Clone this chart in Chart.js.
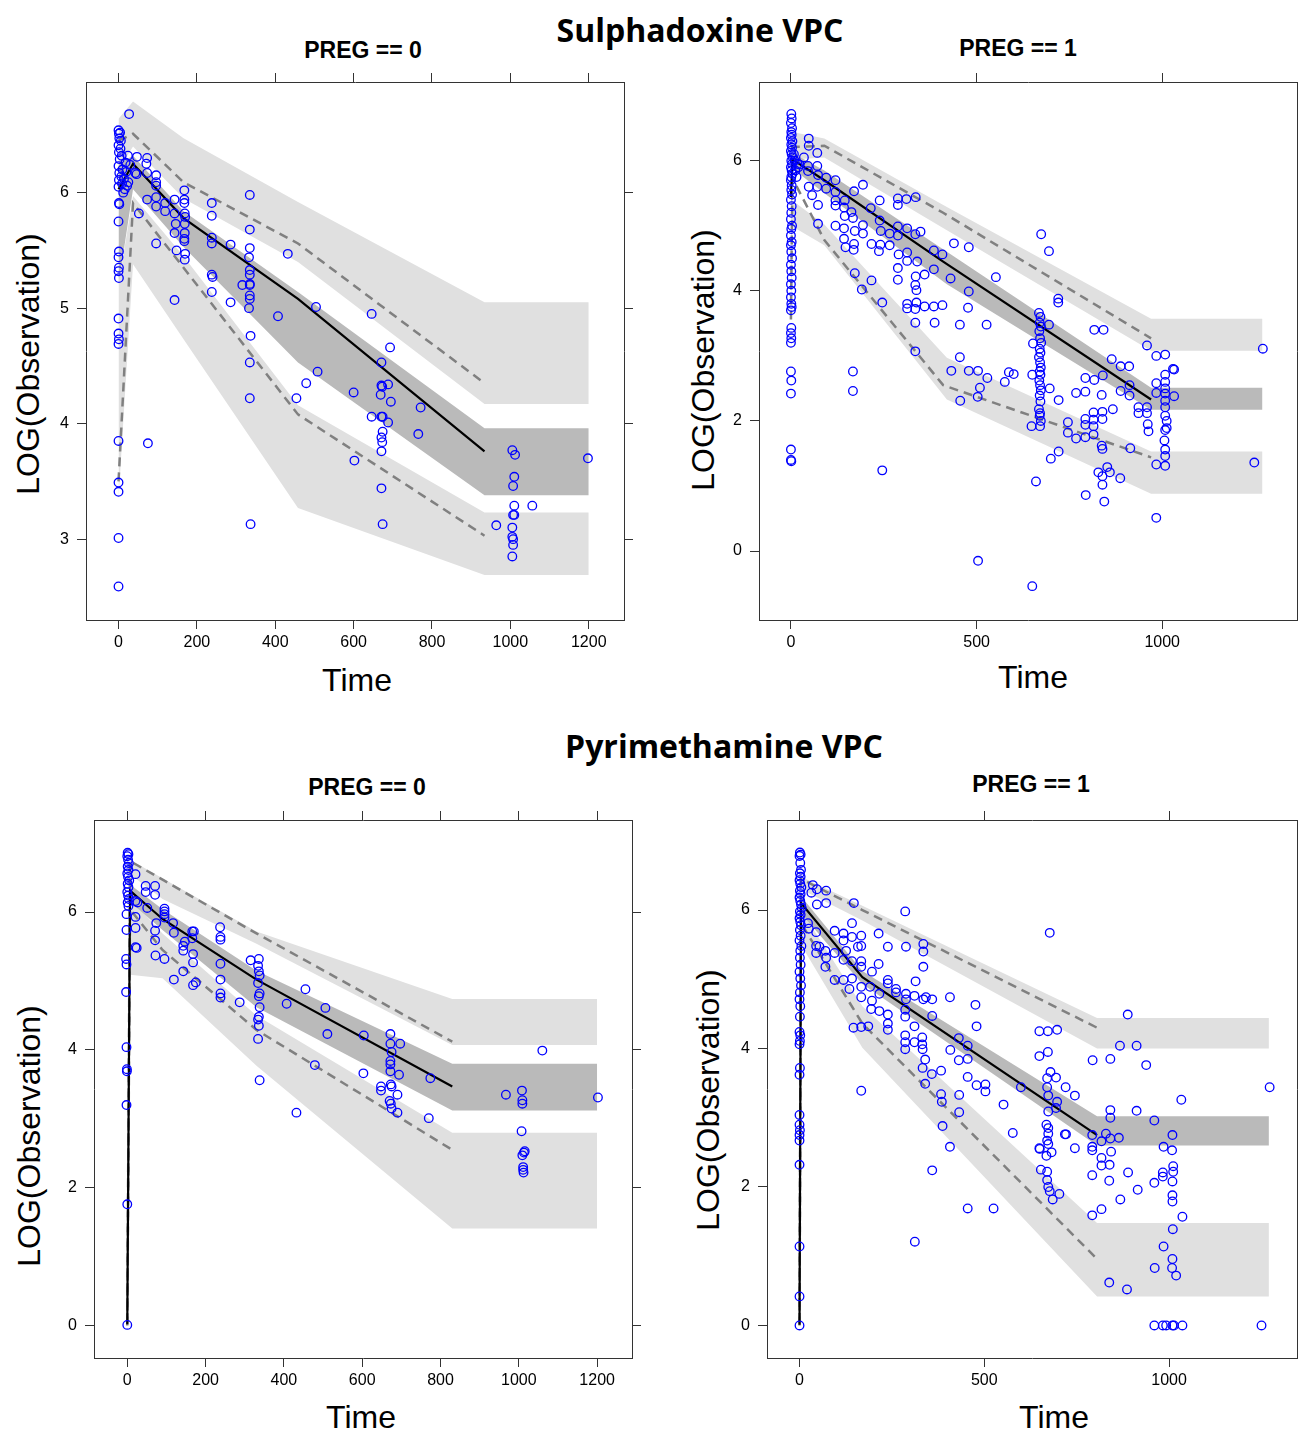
<!DOCTYPE html>
<html>
<head>
<meta charset="utf-8">
<script src="https://cdn.jsdelivr.net/npm/chart.js@4.4.1/dist/chart.umd.min.js"></script>
<style>
body { margin: 0; width: 1298px; height: 1431px; overflow: hidden; background: #fff; position: relative; font-family: "Liberation Sans", Arial, sans-serif; }
canvas { position: absolute; }
.lbl { position: absolute; transform: translate(-50%, -50%); white-space: nowrap; line-height: 1; color: #000; }
.main { font-family: "Open Sans", sans-serif; font-weight: bold; font-size: 32px; }
.strip { font-weight: bold; font-size: 23px; }
.axt { font-size: 32px; }
.rot { transform: translate(-50%, -50%) rotate(-90deg); }
</style>
</head>
<body>

<div class="lbl main" style="left:700px;top:30px">Sulphadoxine VPC</div>
<div class="lbl main" style="left:724px;top:746px">Pyrimethamine VPC</div>

<div class="lbl strip" style="left:363px;top:50px">PREG == 0</div>
<div class="lbl strip" style="left:1018px;top:48px">PREG == 1</div>
<div class="lbl strip" style="left:367px;top:787px">PREG == 0</div>
<div class="lbl strip" style="left:1031px;top:784px">PREG == 1</div>

<div class="lbl axt" style="left:357px;top:680px">Time</div>
<div class="lbl axt" style="left:1033px;top:677px">Time</div>
<div class="lbl axt" style="left:361px;top:1417px">Time</div>
<div class="lbl axt" style="left:1054px;top:1417px">Time</div>

<div class="lbl axt rot" style="left:28px;top:364px">LOG(Observation)</div>
<div class="lbl axt rot" style="left:703px;top:360px">LOG(Observation)</div>
<div class="lbl axt rot" style="left:29px;top:1136px">LOG(Observation)</div>
<div class="lbl axt rot" style="left:708px;top:1100px">LOG(Observation)</div>

<canvas id="c1"></canvas>
<canvas id="c2"></canvas>
<canvas id="c3"></canvas>
<canvas id="c4"></canvas>

<script>
'use strict';

// ---- Sulphadoxine, PREG == 0 ----
var s0Time = [
  0,1,2,0,1,3,0,2,1,0,1,2,0,1,0,1,0,1,0,0,1,0,0,0,0,0,0,
  4,6,5,8,10,7,9,12,16,18,22,25,14,20,
  27,24,47,73,71,30,43,46,73,96,96,96,52,73,96,96,119,119,143,96,75,
  168,168,168,169,170,169,169,168,168,170,169,148,143,146,143,143,
  238,238,238,238,238,240,238,286,286,
  335,335,335,333,335,335,335,335,316,335,335,333,337,335,335,337,
  432,407,504,508,479,454,600,602,
  646,693,671,671,673,669,688,695,646,671,674,688,771,765,674,671,673,671,671,674,
  1005,1012,1010,1007,1010,1056,1007,1010,964,1005,1005,1007,1007,1005,1198
];
var s0Obs = [
  6.54,6.51,6.47,6.41,6.35,6.29,6.23,6.17,6.11,6.05,5.91,5.90,5.75,5.49,5.44,5.35,5.32,5.26,4.91,4.78,4.73,4.69,3.85,3.49,3.41,3.01,2.59,
  6.52,6.45,6.38,6.32,6.20,6.14,6.08,6.00,6.03,6.26,6.06,6.09,6.12,6.18,
  6.68,6.32,6.31,6.30,6.25,6.24,6.17,6.16,6.17,6.15,6.09,6.06,5.82,5.94,5.96,5.88,5.91,5.84,5.94,5.56,3.83,
  6.02,5.94,5.91,5.82,5.79,5.73,5.65,5.60,5.58,5.47,5.42,5.50,5.65,5.73,5.82,5.07,
  5.91,5.80,5.61,5.56,5.29,5.27,5.14,5.55,5.05,
  5.98,5.68,5.52,5.44,5.33,5.29,5.21,5.20,5.20,5.11,5.08,5.00,4.76,4.53,4.22,3.13,
  5.47,4.93,5.01,4.45,4.35,4.22,4.27,3.68,
  4.95,4.66,4.53,4.33,4.32,4.25,4.34,4.19,4.06,4.06,4.06,4.01,4.14,3.91,3.93,3.88,3.84,3.76,3.44,3.13,
  3.77,3.73,3.54,3.46,3.29,3.29,3.21,3.21,3.12,3.10,3.02,3.00,2.95,2.85,3.70
];
var s0Bin = [0, 37, 166, 458, 934];
var s0Median = [6.03, 6.25, 5.78, 5.08, 3.76];
var s0P95 = [6.45, 6.51, 6.09, 5.56, 4.35];
var s0P05 = [3.50, 5.91, 5.35, 4.08, 3.03];
var s0BandT = [0, 37, 166, 458, 934, 1200];
var s0HiTop = [6.64, 6.79, 6.47, 5.92, 5.05, 5.05];
var s0HiBot = [6.20, 6.40, 5.95, 5.40, 4.17, 4.17];
var s0MedTop = [6.25, 6.32, 5.84, 5.14, 3.96, 3.96];
var s0MedBot = [5.20, 6.03, 5.53, 4.53, 3.38, 3.38];
var s0LoTop = [5.20, 5.97, 5.45, 4.16, 3.23, 3.23];
var s0LoBot = [3.35, 5.38, 4.73, 3.27, 2.69, 2.69];
var s0XTicks = [0, 200, 400, 600, 800, 1000, 1200];
var s0YTicks = [3, 4, 5, 6];

// ---- Sulphadoxine, PREG == 1 ----
var s1Time = [
  1,2,0,3,1,2,0,4,1,3, 0,2,5,1,3,0,2,4,1,0, 2,1,3,0,2,1,0,3,1,0, 2,0,1,3,0,1,2,0,1,0, 1,2,0,1,0,1,0,0,1,0, 0,0,1,
  10,12,15,20,8,18,
  48,48,71,35,23,46,71,95,120,46,
  73,48,71,95,57,73,73,120,120,120,
  145,143,170,194,163,145,167,143,120,143,
  147,170,169,172,194,194,172,191,217,217,
  215,239,239,242,241,237,266,266,288,288,
  311,336,288,288,313,349,335,290,288,288,
  313,313,340,336,335,338,338,335,360,385,
  385,408,313,313,360,385,408,246,335,387,
  335,167,167,246,439,479,430,479,477,455,
  527,552,455,432,479,504,529,509,503,456,
  576,587,600,504,652,650,648,650,674,695,
  720,720,668,672,670,673,669,671,674,670,
  672,668,671,673,670,672,669,671,673,670,
  672,668,671,670,673,671,660,695,697,721,
  700,721,817,842,864,888,911,840,817,793,
  912,912,888,768,793,837,867,839,815,815,
  839,793,793,815,746,746,768,793,815,837,
  839,914,828,839,852,859,887,839,794,844,
  959,936,936,959,959,961,963,984,1008,984,
  984,1008,1008,1008,1032,1029,1032,1008,1008,1008,
  1008,1012,1008,1012,1006,1008,1008,1008,984,984,
  1248,1271
];
var s1Obs = [
  6.72,6.65,6.58,6.50,6.44,6.40,6.35,6.30,6.25,6.20, 6.15,6.10,6.05,6.00,5.95,5.90,5.85,5.80,5.75,5.70,
  5.62,5.55,5.48,5.40,5.30,5.20,5.10,5.00,4.95,4.85, 4.75,4.70,4.60,4.50,4.40,4.30,4.20,4.10,4.00,3.90,
  3.80,3.75,3.70,3.43,3.35,3.27,3.20,2.76,2.62,2.42, 1.56,1.40,1.38,
  6.00,5.85,5.75,5.90,6.10,5.95,
  6.34,6.23,6.12,6.05,5.94,5.92,5.92,5.74,5.70,5.84,
  5.78,5.60,5.60,5.57,5.47,5.32,5.03,5.52,5.39,5.31,
  5.39,5.28,5.53,5.63,5.21,5.15,5.12,4.96,5.00,4.80,
  4.67,4.72,4.63,4.92,5.01,4.88,4.27,4.02,4.16,4.72,
  5.27,5.39,5.08,4.92,4.71,4.61,4.88,4.70,5.42,5.32,
  5.41,5.44,4.99,4.85,4.96,4.91,4.87,4.56,4.35,4.17,
  4.59,4.46,4.45,4.22,4.09,4.01,3.82,3.72,4.25,4.33,
  4.62,4.56,3.80,3.73,3.76,3.76,3.78,3.82,3.51,3.51,
  3.07,2.76,2.46,1.24,4.73,4.67,4.19,3.99,3.74,3.48,
  3.48,4.21,2.98,2.77,2.77,2.77,2.66,2.51,2.37,2.31,
  2.60,2.75,2.72,-0.15,3.19,2.71,1.92,-0.54,4.87,4.61,
  3.88,3.82,3.66,3.60,3.51,3.45,3.38,3.27,3.20,3.11,
  3.05,2.98,2.90,2.82,2.76,2.71,2.62,2.55,2.47,2.39,
  2.30,2.18,2.12,2.08,2.00,1.92,1.07,3.48,2.50,2.32,
  1.42,1.53,3.40,3.40,2.95,2.84,2.84,2.70,2.63,2.66,
  2.55,2.39,2.46,2.43,2.45,2.40,2.18,2.14,2.13,2.02,
  2.03,2.03,1.94,1.92,1.98,1.82,1.73,1.75,1.79,1.62,
  1.57,1.58,1.21,1.15,1.29,1.21,1.12,1.02,0.86,0.76,
  3.16,2.21,2.12,2.21,2.12,1.95,1.84,3.00,3.02,2.58,
  2.43,2.71,2.60,2.50,2.79,2.80,2.38,2.42,2.31,2.21,
  2.08,2.00,1.86,1.89,1.70,1.56,1.46,1.31,1.33,0.51,
  1.36,3.11
];
var s1Bin = [0, 4, 90, 410, 970];
var s1Median = [5.44, 6.02, 5.70, 4.45, 2.33];
var s1P95 = [6.20, 6.21, 6.23, 5.20, 3.27];
var s1P05 = [3.56, 5.73, 4.78, 2.55, 1.44];
var s1BandT = [0, 4, 90, 420, 970, 1270];
var s1HiTop = [6.25, 6.44, 6.34, 5.29, 3.57, 3.57];
var s1HiBot = [5.90, 6.02, 6.05, 4.93, 3.08, 3.08];
var s1MedTop = [6.10, 6.12, 5.85, 4.60, 2.51, 2.51];
var s1MedBot = [5.00, 5.88, 5.50, 4.10, 2.17, 2.17];
var s1LoTop = [5.90, 5.39, 5.02, 2.97, 1.53, 1.53];
var s1LoBot = [3.50, 4.99, 4.70, 2.33, 0.88, 0.88];
var s1XTicks = [0, 500, 1000];
var s1YTicks = [0, 2, 4, 6];

// ---- Pyrimethamine, PREG == 0 ----
var p0Time = [
  1,3,0,2,4,1,3,0,2,5, 1,3,0,2,4,1,3,-2,-2,-3, -2,-3,-2,-1,-1,-2,0,0,
  21,47,71,47,71,21,26,51,21,21,
  21,24,95,95,95,95,74,71,71,117,
  119,72,95,119,143,143,143,147,166,170,
  166,168,168,168,175,237,238,238,238,238,
  238,238,287,315,336,334,336,338,334,338,
  336,338,336,334,336,334,338,407,455,506,
  511,479,432,604,603,672,672,697,675,672,
  672,672,694,648,648,673,675,690,670,673,
  675,690,774,770,967,1008,1009,1009,1060,1202,
  1007,1015,1013,1009,1011,1011,1012
];
var p0Obs = [
  6.86,6.84,6.81,6.76,6.71,6.66,6.61,6.56,6.51,6.46, 6.41,6.36,6.29,6.24,6.19,6.14,6.09,5.97,5.74,5.32,
  5.24,4.84,4.04,3.72,3.69,3.20,1.76,0.01,
  6.55,6.38,6.38,6.29,6.25,6.16,6.14,6.06,5.93,5.77,
  5.49,5.48,6.05,6.01,5.97,5.92,5.84,5.73,5.59,5.84,
  5.70,5.37,5.32,5.02,5.14,5.51,5.44,5.57,5.72,5.72,
  5.62,5.39,5.27,4.94,4.98,5.78,5.64,5.60,5.25,5.02,
  4.82,4.76,4.69,5.30,5.32,5.22,5.14,5.08,4.97,4.82,
  4.78,4.62,4.48,4.44,4.35,4.16,3.56,4.67,4.88,4.61,
  4.23,3.78,3.09,4.21,3.66,4.23,4.09,4.09,3.97,3.84,
  3.79,3.69,3.64,3.47,3.41,3.50,3.47,3.35,3.26,3.22,
  3.15,3.09,3.59,3.01,3.35,3.41,3.27,3.22,3.99,3.31,
  2.82,2.53,2.51,2.47,2.30,2.26,2.22
];
var p0Bin = [0, 7, 90, 330, 830];
var p0Median = [0.02, 6.31, 5.90, 5.02, 3.47];
var p0P95 = [0.05, 6.74, 6.47, 5.69, 4.12];
var p0P05 = [0.00, 6.04, 5.45, 4.29, 2.55];
var p0BandT = [0, 7, 90, 330, 830, 1200];
var p0HiTop = [0.10, 6.76, 6.49, 5.72, 4.74, 4.74];
var p0HiBot = [0.05, 6.55, 6.19, 5.54, 4.07, 4.07];
var p0MedTop = [0.05, 6.40, 6.04, 5.15, 3.80, 3.80];
var p0MedBot = [0.00, 6.15, 5.74, 4.62, 3.12, 3.12];
var p0LoTop = [0.02, 6.20, 5.69, 4.50, 2.80, 2.80];
var p0LoBot = [0.00, 5.09, 5.04, 3.77, 1.41, 1.41];
var p0XTicks = [0, 200, 400, 600, 800, 1000, 1200];
var p0YTicks = [0, 2, 4, 6];

// ---- Pyrimethamine, PREG == 1 ----
var p1Time = [
  1,3,0,2,4,1,3,0,2,5, 1,3,0,2,4,6,1,3,0,2, 4,1,3,0,5,2,1,3,0,2, 4,1,0,2,1,0,2,1,0,1, 0,0,0,1,0,0,0,0,0,0,
  36,47,72,72,32,47,147,286,23,25,
  45,95,119,142,167,142,119,158,167,214,
  239,288,335,335,335,45,54,70,45,72,
  70,95,119,126,142,167,167,196,214,95,
  119,142,135,167,191,167,216,196,194,216,
  239,239,261,261,288,288,286,286,314,311,
  335,342,359,359,239,239,239,311,146,167,
  186,286,286,286,311,332,332,333,340,333,
  358,340,383,408,431,455,455,431,407,476,
  479,455,479,503,503,383,385,432,432,387,
  407,359,455,525,312,167,552,577,599,649,
  649,649,653,677,672,697,672,679,694,670,
  670,673,697,694,673,668,673,673,670,673,
  682,668,650,670,670,673,677,685,703,720,
  745,718,721,745,793,841,867,912,938,888,
  841,841,912,792,829,841,864,817,792,792,
  843,817,817,839,792,838,889,915,868,817,
  792,838,886,960,985,960,983,983,1009,1008,
  1011,1011,1009,1009,1009,1036,1010,985,1009,961,
  1008,1019,1033,1272,960,983,992,1009,1013,1036,
  1250
];
var p1Obs = [
  6.83,6.80,6.78,6.68,6.58,6.53,6.48,6.43,6.38,6.33, 6.28,6.23,6.18,6.13,6.08,6.03,5.98,5.93,5.88,5.83,
  5.78,5.71,5.63,5.56,5.48,5.41,5.31,5.21,5.11,5.01, 4.91,4.81,4.71,4.61,4.46,4.24,4.19,4.11,4.06,3.72,
  3.62,3.04,2.90,2.82,2.75,2.67,2.32,1.14,0.42,0.00,
  6.36,6.30,6.28,6.10,6.25,6.08,6.10,5.98,5.81,5.73,
  5.68,5.70,5.66,5.81,5.63,5.61,5.56,5.47,5.48,5.66,
  5.47,5.47,5.51,5.40,5.18,5.48,5.47,5.41,5.38,5.31,
  5.18,5.38,5.28,5.41,5.26,5.26,5.18,5.11,5.22,4.99,
  4.99,5.01,4.86,4.89,4.89,4.74,4.79,4.69,4.57,4.54,
  4.94,4.99,4.86,4.81,4.79,4.71,4.56,4.46,4.97,4.76,
  4.71,4.74,4.71,4.47,4.49,4.36,4.27,4.32,4.30,4.31,
  4.32,4.19,4.09,3.99,4.09,4.16,4.06,3.99,3.84,3.72,
  3.63,3.49,3.68,3.98,3.83,3.85,4.04,4.15,4.74,4.63,
  4.32,3.59,3.47,3.48,3.38,3.34,3.23,3.33,3.08,2.88,
  2.58,2.24,1.69,1.69,1.21,3.39,3.19,2.78,3.44,4.25,
  3.89,2.56,2.25,5.67,4.25,4.27,3.95,3.66,3.58,3.57,
  3.44,3.32,3.23,3.14,3.09,2.90,2.85,2.77,2.67,2.62,
  2.50,2.45,2.55,2.22,2.10,2.00,1.94,1.82,1.90,3.44,
  3.32,2.76,2.76,2.56,3.83,3.85,4.04,4.04,3.76,4.49,
  3.11,3.00,3.10,2.75,2.77,2.70,2.71,2.66,2.58,2.53,
  2.51,2.42,2.31,2.32,2.17,2.09,2.21,1.96,1.82,1.68,
  1.59,0.62,0.52,2.96,2.58,2.06,2.21,2.15,2.75,2.53,
  2.30,2.22,2.08,1.88,1.79,1.57,1.39,1.14,0.96,0.83,
  0.83,0.72,3.26,3.44,0,0,0,0,0,0,
  0
];
var p1Bin = [0, 4, 170, 805];
var p1Median = [0.01, 6.10, 5.03, 2.75];
var p1P95 = [0.05, 6.45, 6.00, 4.30];
var p1P05 = [0.00, 5.81, 4.36, 0.96];
var p1BandT = [0, 4, 170, 805, 1270];
var p1HiTop = [0.05, 6.48, 6.06, 4.44, 4.44];
var p1HiBot = [0.03, 6.30, 5.85, 4.00, 4.00];
var p1MedTop = [0.03, 6.20, 5.12, 3.02, 3.02];
var p1MedBot = [0.00, 5.95, 4.93, 2.60, 2.60];
var p1LoTop = [0.02, 6.00, 4.61, 1.48, 1.48];
var p1LoBot = [0.00, 5.50, 4.01, 0.42, 0.42];
var p1XTicks = [0, 500, 1000];
var p1YTicks = [0, 2, 4, 6];

var LIGHT = '#e0e0e0';
var DARK = '#bababa';
var AXIS = '#333333';

function pts(xs, ys) {
  return xs.map(function (x, i) { return { x: x, y: ys[i] }; });
}

function setTicks(vals) {
  return function (scale) {
    scale.ticks = vals.map(function (v) { return { value: v }; });
  };
}

function fixSize(prop, size) {
  return function (scale) {
    scale[prop] = size;
    scale.paddingLeft = 0; scale.paddingRight = 0;
    scale.paddingTop = 0; scale.paddingBottom = 0;
  };
}

function plainNum(v) { return String(v); }

function bandPair(xs, top, bot, color, ord) {
  return [
    { type: 'line', data: pts(xs, top), borderWidth: 0, pointRadius: 0, fill: '+1', backgroundColor: color, order: ord },
    { type: 'line', data: pts(xs, bot), borderWidth: 0, pointRadius: 0, fill: false, order: ord }
  ];
}

function line(xs, ys, color, width, dash) {
  return { type: 'line', data: pts(xs, ys), borderColor: color, borderWidth: width, borderDash: dash,
           pointRadius: 0, fill: false, tension: 0, order: 2 };
}

function makePanel(id, p) {
  // chart area in page pixels: left, top, right, bottom
  var a = p.area;
  var yw = 86, yrw = 12, xth = 26, xh = 100;
  var cv = document.getElementById(id);
  cv.width = (a[2] - a[0]) + yw + yrw;
  cv.height = (a[3] - a[1]) + xth + xh;
  cv.style.left = (a[0] - yw) + 'px';
  cv.style.top = (a[1] - xth) + 'px';
  cv.style.width = cv.width + 'px';
  cv.style.height = cv.height + 'px';

  var tickFont = { family: '"Liberation Sans", Arial, sans-serif', size: 16 };
  var grid = { drawOnChartArea: false, drawTicks: true, tickLength: 9, color: AXIS, lineWidth: 1 };
  var border = { display: true, color: AXIS, width: 1 };

  var datasets = [
    { type: 'scatter', data: pts(p.time, p.obs), pointStyle: 'circle', pointRadius: 4.3,
      borderColor: '#0000ff', backgroundColor: 'rgba(0,0,0,0)', borderWidth: 1.3, order: 1 },
    line(p.bin, p.med, '#000000', 2.2, []),
    line(p.bin, p.hi, '#808080', 2.5, [9, 6]),
    line(p.bin, p.lo, '#808080', 2.5, [9, 6])
  ];
  datasets = datasets.concat(bandPair(p.bandT, p.bands[0], p.bands[1], LIGHT, 6));
  datasets = datasets.concat(bandPair(p.bandT, p.bands[4], p.bands[5], LIGHT, 6));
  datasets = datasets.concat(bandPair(p.bandT, p.bands[2], p.bands[3], DARK, 5));

  return new Chart(cv.getContext('2d'), {
    type: 'scatter',
    data: { datasets: datasets },
    options: {
      responsive: false,
      animation: false,
      events: [],
      layout: { padding: 0 },
      plugins: { legend: { display: false }, tooltip: { enabled: false }, title: { display: false } },
      scales: {
        x: { type: 'linear', position: 'bottom', min: p.xMin, max: p.xMax,
             afterBuildTicks: setTicks(p.xTicks), afterFit: fixSize('height', xh),
             ticks: { font: tickFont, color: '#000', padding: 4, maxRotation: 0, autoSkip: false, callback: plainNum },
             grid: grid, border: border },
        xt: { type: 'linear', position: 'top', min: p.xMin, max: p.xMax,
              afterBuildTicks: setTicks(p.xTicks), afterFit: fixSize('height', xth),
              ticks: { display: false }, grid: grid, border: border },
        y: { type: 'linear', position: 'left', min: p.yMin, max: p.yMax,
             afterBuildTicks: setTicks(p.yTicks), afterFit: fixSize('width', yw),
             ticks: { font: tickFont, color: '#000', padding: 8, autoSkip: false, callback: plainNum },
             grid: grid, border: border },
        yr: { type: 'linear', position: 'right', min: p.yMin, max: p.yMax,
              afterBuildTicks: setTicks(p.yTicks), afterFit: fixSize('width', yrw),
              ticks: { display: false }, grid: grid, border: border }
      }
    }
  });
}

makePanel('c1', { area: [86, 82, 624, 620], xMin: -83, xMax: 1290, yMin: 2.30, yMax: 6.958,
  xTicks: s0XTicks, yTicks: s0YTicks, time: s0Time, obs: s0Obs, bin: s0Bin, med: s0Median, hi: s0P95, lo: s0P05,
  bandT: s0BandT, bands: [s0HiTop, s0HiBot, s0MedTop, s0MedBot, s0LoTop, s0LoBot] });

makePanel('c2', { area: [759, 82, 1297, 620], xMin: -86, xMax: 1363, yMin: -1.06, yMax: 7.21,
  xTicks: s1XTicks, yTicks: s1YTicks, time: s1Time, obs: s1Obs, bin: s1Bin, med: s1Median, hi: s1P95, lo: s1P05,
  bandT: s1BandT, bands: [s1HiTop, s1HiBot, s1MedTop, s1MedBot, s1LoTop, s1LoBot] });

makePanel('c3', { area: [94, 820, 632, 1358], xMin: -85, xMax: 1289, yMin: -0.47, yMax: 7.336,
  xTicks: p0XTicks, yTicks: p0YTicks, time: p0Time, obs: p0Obs, bin: p0Bin, med: p0Median, hi: p0P95, lo: p0P05,
  bandT: p0BandT, bands: [p0HiTop, p0HiBot, p0MedTop, p0MedBot, p0LoTop, p0LoBot] });

makePanel('c4', { area: [767, 820, 1297, 1358], xMin: -88, xMax: 1346, yMin: -0.47, yMax: 7.30,
  xTicks: p1XTicks, yTicks: p1YTicks, time: p1Time, obs: p1Obs, bin: p1Bin, med: p1Median, hi: p1P95, lo: p1P05,
  bandT: p1BandT, bands: [p1HiTop, p1HiBot, p1MedTop, p1MedBot, p1LoTop, p1LoBot] });
</script>
</body>
</html>
